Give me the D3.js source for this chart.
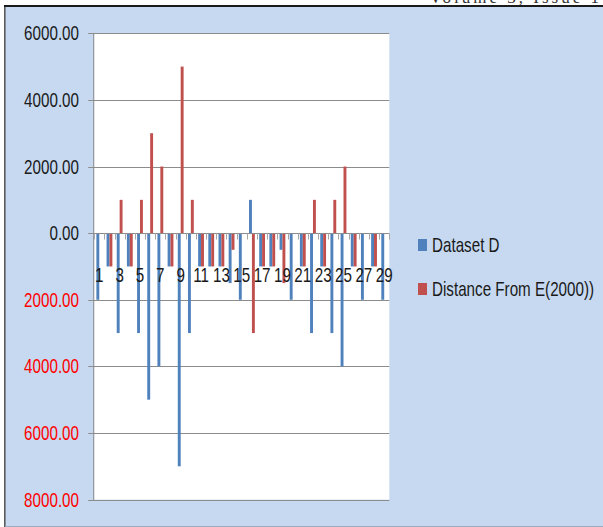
<!DOCTYPE html>
<html>
<head>
<meta charset="utf-8">
<script src="https://cdn.jsdelivr.net/npm/d3@7"></script>
<style>
  html, body { margin: 0; padding: 0; background: #ffffff; }
  svg { display: block; }
  .lbl { font-family: "Liberation Sans", Arimo, sans-serif; font-size: 20px; }
</style>
</head>
<body>
<script>
// Category numbers along the x axis
const categories = [1,2,3,4,5,6,7,8,9,10,11,12,13,14,15,16,17,18,19,20,21,22,23,24,25,26,27,28,29];
// Series values
const datasetD = [-2000,-1000,-3000,-1000,-3000,-5000,-4000,-1000,-7000,-3000,-1000,-1000,-1000,-1500,-2000,
                  1000,-1000,-1000,-500,-2000,-1000,-3000,-1000,-3000,-4000,-1000,-2000,-1000,-2000];
const distanceE = [0,-1000,1000,-1000,1000,3000,2000,-1000,5000,1000,-1000,-1000,-1000,-500,0,
                   -3000,-1000,-1000,-1500,0,-1000,1000,-1000,1000,2000,-1000,0,-1000,0];
const seriesNames = ["Dataset D", "Distance From E(2000))"];
const seriesColors = ["#4f81bd", "#c0504d"];
// Value axis ticks
const yTicks = [6000, 4000, 2000, 0, -2000, -4000, -6000, -8000];

const W = 603, H = 527;
const plot = { left: 94.2, right: 389.3, top: 33.3, bottom: 499.6 };
const SX = 0.76; // condensed lettering

const svg = d3.select("body").append("svg").attr("width", W).attr("height", H);

// chart area background and frame
svg.append("rect").attr("x", 5).attr("y", 6).attr("width", W).attr("height", 520).attr("fill", "#c6d9f0");
svg.append("line").attr("x1", 4.8).attr("x2", 4.8).attr("y1", 5).attr("y2", H).attr("stroke", "#5a5a5a").attr("stroke-width", 1.6);
svg.append("line").attr("x1", 4).attr("x2", W).attr("y1", 6).attr("y2", 6).attr("stroke", "#1a1a1a").attr("stroke-width", 2);
svg.append("line").attr("x1", 5).attr("x2", W).attr("y1", 526.5).attr("y2", 526.5).attr("stroke", "#9aabc0").attr("stroke-width", 1);

// running header above the frame
svg.append("text").attr("x", 602).attr("y", 3).attr("text-anchor", "end")
  .attr("font-family", "Liberation Serif, serif").attr("font-size", 17).attr("letter-spacing", 3)
  .attr("fill", "#333").text("Volume 3, Issue 1");

const x0 = d3.scaleBand().domain(categories).range([plot.left, plot.right]).paddingInner(0).paddingOuter(0);
const x1 = d3.scaleBand().domain(seriesNames).range([0, x0.bandwidth()]).paddingInner(0).paddingOuter(0.75);
const y = d3.scaleLinear().domain([-8000, 6000]).range([plot.bottom, plot.top]);

// condensed text helper
function place(sel, fx, fy) {
  return sel.attr("class", "lbl").attr("x", 0).attr("y", 0)
    .attr("transform", (d, i) => `translate(${fx(d, i)},${fy(d, i)}) scale(${SX},1)`);
}

// plot area
svg.append("rect").attr("x", plot.left).attr("y", plot.top)
  .attr("width", plot.right - plot.left).attr("height", plot.bottom - plot.top).attr("fill", "#ffffff");

// gridlines
svg.append("g").selectAll("line").data(yTicks.filter(d => d !== 0)).join("line")
  .attr("x1", plot.left - 6).attr("x2", plot.right)
  .attr("y1", d => Math.round(y(d)) + 0.5).attr("y2", d => Math.round(y(d)) + 0.5)
  .attr("stroke", "#8c8c8c").attr("stroke-width", 1);

// value axis line
svg.append("line").attr("x1", plot.left - 0.5).attr("x2", plot.left - 0.5)
  .attr("y1", plot.top).attr("y2", plot.bottom + 0.5).attr("stroke", "#8c8c8c");

// bars
const series = [datasetD, distanceE];
const groups = svg.append("g").selectAll("g").data(series).join("g")
  .attr("fill", (d, i) => seriesColors[i]);
groups.selectAll("rect").data((vals, si) => vals.map((v, ci) => ({ v, c: categories[ci], s: seriesNames[si] })))
  .join("rect")
  .attr("x", d => x0(d.c) + x1(d.s))
  .attr("width", x1.bandwidth())
  .attr("y", d => y(Math.max(0, d.v)))
  .attr("height", d => Math.abs(y(d.v) - y(0)));

// category axis at zero with outside ticks at the band boundaries
const y0 = Math.round(y(0)) + 0.5;
svg.append("line").attr("x1", plot.left - 6).attr("x2", plot.right).attr("y1", y0).attr("y2", y0).attr("stroke", "#8c8c8c");
const boundaries = categories.map(c => x0(c)).concat([plot.right]);
svg.append("g").selectAll("line").data(boundaries).join("line")
  .attr("x1", d => Math.round(d) + 0.5).attr("x2", d => Math.round(d) + 0.5)
  .attr("y1", y0).attr("y2", y0 + 6).attr("stroke", "#a6a6a6");

// category labels (every other one)
place(svg.append("g").selectAll("text").data(categories.filter(c => c % 2 === 1)).join("text"),
      d => x0(d) + x0.bandwidth() / 2, () => 281.5)
  .attr("text-anchor", "middle").attr("fill", "#1a1a1a")
  .text(d => d);

// value labels: negatives shown in red without sign
place(svg.append("g").selectAll("text").data(yTicks).join("text"),
      () => 79, d => y(d) + 7)
  .attr("text-anchor", "end")
  .attr("fill", d => d < 0 ? "#ff0000" : "#1a1a1a")
  .text(d => Math.abs(d).toFixed(2));

// legend
const legendY = [245, 289];
const legend = svg.append("g").selectAll("g").data(seriesNames).join("g");
legend.append("rect").attr("x", 418).attr("y", (d, i) => legendY[i] - 6)
  .attr("width", 9).attr("height", 12).attr("fill", (d, i) => seriesColors[i]);
place(legend.append("text"), () => 432, (d, i) => legendY[i] + 7)
  .attr("fill", "#1a1a1a").text(d => d);
</script>
</body>
</html>
